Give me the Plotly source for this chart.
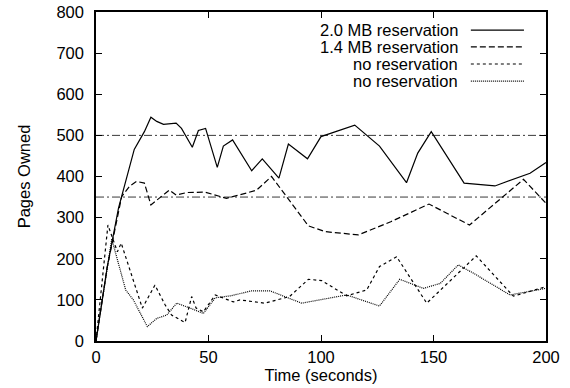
import plotly.graph_objects as go

# ---- data ----
t_20mb = [0, 5, 10, 17, 21.5, 24.4, 27, 30, 35.6, 38, 42.8, 45.5, 48.7, 53.9, 56.6, 60.7,
          69.2, 73.9, 81.3, 85.5, 94, 100, 115, 126, 138, 143, 149, 163.6, 177.3, 192.9, 200]
y_20mb = [0, 180, 323, 466, 509, 544, 534, 527, 530, 517, 471, 512, 517, 422, 474, 489,
          414, 443, 396, 479, 443, 497, 525, 474, 385, 457, 509, 384, 377, 408, 434]

t_14mb = [0, 5, 11.4, 15, 18, 21.5, 24.4, 27, 32.6, 35.6, 40.3, 48.4, 53.6, 58, 67.7, 71.4,
          78, 94.4, 101.8, 116.6, 131, 148, 166, 190, 200]
y_14mb = [0, 180, 351, 377, 388, 384, 331, 343, 367, 355, 361, 362, 353, 347, 361, 367,
          400, 280, 266, 258, 290, 333, 282, 393, 335]

t_nores_a = [0, 5.3, 9.5, 11.2, 20.6, 26.2, 30.7, 33.6, 39.6, 42.5, 44.5, 47.7, 53, 61, 64,
             75, 86, 94.4, 100.3, 111.4, 120.3, 126, 133.6, 147, 169, 185.5, 200]
y_nores_a = [0, 282, 217, 238, 80, 136, 88, 63, 45, 108, 80, 71, 112, 95, 100,
             92, 108, 150, 147, 110, 124, 181, 205, 92, 207, 109, 132]

t_nores_b = [0, 7, 13.2, 16.6, 22.8, 27, 31.4, 35.9, 41.8, 47.7, 53, 60, 69.2, 77.3, 91.4,
             111.4, 126, 135, 145.5, 153, 161, 167.7, 184, 200]
y_nores_b = [0, 248, 124, 100, 35, 55, 63, 92, 80, 67, 105, 110, 122, 122, 92,
             112, 85, 150, 128, 140, 185, 165, 112, 128]

reference_levels = [500, 350]
x_range = [0, 200]
y_range = [0, 800]
x_ticks = [0, 50, 100, 150, 200]
y_ticks = [0, 100, 200, 300, 400, 500, 600, 700, 800]

series_names = ["2.0 MB reservation", "1.4 MB reservation", "no reservation", "no reservation"]
series_dash = ["solid", "6px,3px", "3px,3px", "1px,1px"]

FONT = "Liberation Sans, Arial, Helvetica, sans-serif"
FS = 16.5

fig = go.Figure()

for lvl in reference_levels:
    fig.add_trace(go.Scatter(x=x_range, y=[lvl, lvl], mode="lines",
                             line=dict(color="#3a3a3a", width=1, dash="8px,3px,2px,3px"),
                             showlegend=False, hoverinfo="skip"))

series = [(t_20mb, y_20mb), (t_14mb, y_14mb), (t_nores_a, y_nores_a), (t_nores_b, y_nores_b)]
for (tx, ty), name, dash in zip(series, series_names, series_dash):
    fig.add_trace(go.Scatter(x=tx, y=ty, mode="lines", name=name,
                             line=dict(color="black", width=1.2, dash=dash),
                             showlegend=False))

# gnuplot-style key: text on the left, line sample on the right
row_y = [0.945, 0.894, 0.842, 0.790]
for name, dash, ry in zip(series_names, series_dash, row_y):
    fig.add_annotation(x=0.806, y=ry, xref="paper", yref="paper", text=name,
                       showarrow=False, xanchor="right", yanchor="middle",
                       height=16, borderpad=0,
                       font=dict(family=FONT, size=FS, color="black"))
    fig.add_shape(type="line", xref="paper", yref="paper", x0=0.833, x1=0.951,
                  y0=ry, y1=ry, line=dict(color="black", width=1.2, dash=dash))

axis_common = dict(showgrid=False, zeroline=False, showline=True, linecolor="black",
                   linewidth=1.5, mirror="ticks", ticks="inside", ticklen=6,
                   tickwidth=1.2, tickcolor="black", automargin=False,
                   tickfont=dict(family=FONT, size=FS, color="black"))

fig.update_xaxes(range=x_range, tickvals=x_ticks, ticktext=[str(v) for v in x_ticks],
                 title=dict(text="Time (seconds)", standoff=0,
                            font=dict(family=FONT, size=FS, color="black")),
                 **axis_common)
fig.update_yaxes(range=y_range, tickvals=y_ticks, ticktext=[str(v) for v in y_ticks],
                 ticklabelstandoff=7,
                 title=dict(text="Pages Owned", standoff=22,
                            font=dict(family=FONT, size=FS, color="black")),
                 **axis_common)

fig.update_layout(width=570, height=388, margin=dict(l=96, r=24, t=12, b=47),
                  plot_bgcolor="white", paper_bgcolor="white", showlegend=False)

fig.write_html("out.html", config={"displayModeBar": False},
               post_script="document.body.style.margin='0';document.body.style.overflow='hidden';")
